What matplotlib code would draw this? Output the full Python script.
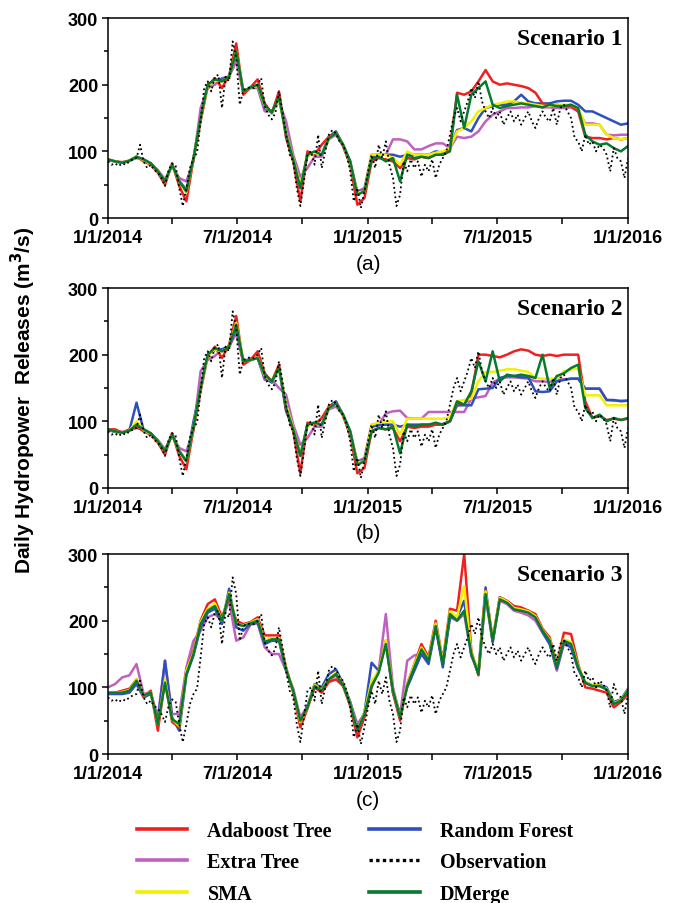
import matplotlib
matplotlib.use("Agg")
import matplotlib.pyplot as plt
import matplotlib.dates as mdates
from matplotlib.ticker import FuncFormatter, MultipleLocator
import numpy as np
import pandas as pd

start = pd.Timestamp("2014-01-01")
end = pd.Timestamp("2016-01-01")

# observed releases, one reading every 5 days (day 0 .. 730)
obs = [85, 80, 82, 78, 82, 80, 85, 88, 90, 110,
       85, 75, 80, 72, 68, 60, 48, 72, 82, 78,
       45, 18, 45, 75, 90, 98, 145, 195, 205, 190,
       212, 215, 165, 212, 205, 265, 240, 170, 192, 195,
       196, 195, 200, 210, 168, 155, 148, 158, 190, 160,
       125, 95, 85, 45, 18, 55, 95, 100, 80, 125,
       75, 100, 125, 132, 127, 115, 110, 95, 70, 25,
       45, 15, 40, 70, 95, 75, 110, 90, 115, 80,
       60, 18, 35, 85, 70, 88, 75, 85, 62, 80,
       70, 88, 60, 80, 90, 100, 125, 150, 165, 145,
       160, 175, 195, 180, 205, 175, 160, 150, 165, 150,
       160, 140, 150, 160, 145, 155, 140, 150, 160, 145,
       135, 150, 160, 150, 145, 165, 140, 165, 170, 160,
       150, 120, 115, 100, 125, 110, 115, 100, 110, 105,
       95, 70, 105, 90, 85, 60, 90]

# model outputs, one reading every 10 days (day 0 .. 730)
# scenario 1
s1_ada = [88, 85, 83, 86, 92, 85, 80, 68, 50, 82, 48, 25, 88, 145, 198, 210, 195, 214, 262, 185,
          196, 208, 172, 157, 190, 120, 85, 25, 100, 95, 110, 122, 128, 108, 80, 20, 30,
          85, 90, 88, 85, 75, 90, 88, 92, 90, 95, 95, 105,
          188, 185, 190, 205, 222, 205, 200, 202, 200, 198, 195,
          188, 172, 168, 170, 168, 168, 160, 122, 120, 120, 118, 120, 118, 120]
s1_rf = [87, 85, 83, 86, 92, 87, 82, 70, 56, 80, 56, 42, 90, 150, 200, 207, 208, 212, 248, 190,
         196, 198, 165, 160, 180, 128, 90, 48, 95, 98, 95, 122, 130, 110, 85, 38, 42,
         92, 95, 95, 95, 92, 95, 95, 95, 95, 100, 98, 105,
         132, 135, 130, 150, 165, 168, 170, 170, 175, 185, 175,
         172, 172, 172, 175, 176, 176, 170, 160, 160, 155, 150, 145, 140, 142]
s1_et = [87, 85, 84, 86, 90, 88, 82, 72, 58, 78, 60, 55, 85, 165, 195, 200, 210, 212, 235, 188,
         195, 195, 160, 160, 175, 145, 95, 62, 75, 92, 92, 118, 125, 108, 80, 40, 45,
         95, 95, 95, 118, 118, 115, 103, 103, 108, 112, 112, 105,
         122, 120, 122, 130, 145, 155, 160, 165, 165, 166, 166,
         168, 166, 166, 165, 165, 166, 160, 142, 142, 140, 125, 124, 125, 125]
s1_sma = [88, 85, 83, 86, 92, 87, 81, 70, 55, 80, 55, 38, 90, 150, 198, 206, 205, 212, 250, 190,
          196, 198, 168, 158, 178, 128, 90, 50, 92, 98, 95, 120, 127, 110, 83, 38, 40,
          95, 95, 95, 90, 80, 100, 95, 95, 95, 98, 100, 105,
          130, 135, 145, 160, 165, 170, 172, 175, 175, 173, 172,
          170, 168, 168, 170, 170, 170, 165, 140, 140, 140, 125, 120, 118, 120]
s1_dm = [88, 85, 83, 86, 92, 88, 82, 70, 55, 80, 55, 40, 90, 150, 200, 208, 205, 212, 250, 190,
         196, 200, 170, 158, 182, 125, 88, 45, 95, 100, 95, 120, 127, 110, 85, 35, 40,
         88, 92, 85, 90, 55, 95, 90, 92, 90, 95, 95, 100,
         185, 135, 185, 195, 205, 170, 165, 168, 170, 172, 170,
         168, 166, 170, 168, 168, 170, 165, 125, 115, 110, 112, 105, 100, 108]

# scenario 2
s2_ada = [88, 88, 83, 88, 92, 85, 80, 68, 50, 82, 48, 28, 88, 145, 198, 212, 195, 215, 258, 185,
          192, 205, 172, 160, 185, 118, 85, 22, 98, 95, 105, 122, 128, 108, 80, 22, 30,
          85, 90, 88, 90, 70, 92, 90, 92, 92, 95, 95, 100,
          128, 125, 140, 200, 200, 198, 196, 200, 205, 208, 206,
          200, 198, 200, 198, 200, 200, 200, 130, 105, 108, 102, 104, 102, 104]
s2_rf = [87, 84, 83, 86, 128, 87, 82, 70, 56, 82, 56, 40, 100, 150, 200, 207, 208, 212, 240, 190,
         194, 196, 165, 158, 180, 115, 90, 50, 95, 98, 95, 122, 130, 110, 85, 38, 42,
         92, 94, 95, 95, 92, 95, 95, 95, 95, 95, 96, 100,
         124, 124, 124, 148, 149, 150, 165, 168, 168, 166, 166,
         145, 144, 145, 160, 162, 164, 164, 149, 149, 149, 132, 132, 130, 131]
s2_et = [87, 85, 84, 86, 90, 88, 82, 72, 58, 78, 60, 55, 86, 175, 192, 198, 208, 212, 232, 188,
         192, 195, 162, 162, 150, 140, 95, 65, 75, 92, 92, 118, 122, 110, 78, 40, 45,
         95, 95, 112, 115, 116, 105, 104, 104, 114, 114, 114, 114,
         114, 114, 134, 136, 138, 158, 164, 166, 166, 165, 164,
         160, 160, 159, 162, 163, 164, 164, 149, 149, 149, 132, 131, 131, 131]
s2_sma = [88, 85, 83, 86, 100, 87, 81, 70, 55, 80, 55, 40, 92, 150, 198, 208, 205, 212, 248, 190,
          192, 196, 168, 160, 178, 125, 90, 50, 92, 98, 95, 120, 127, 110, 83, 38, 40,
          95, 98, 100, 100, 80, 104, 104, 104, 104, 104, 104, 106,
          130, 132, 134, 160, 174, 174, 176, 178, 178, 176, 174,
          165, 164, 164, 164, 175, 178, 179, 139, 139, 139, 124, 124, 124, 124]
s2_dm = [88, 85, 83, 86, 95, 88, 82, 70, 55, 80, 55, 40, 92, 150, 200, 210, 205, 212, 245, 190,
         192, 195, 170, 160, 180, 120, 88, 48, 95, 98, 95, 120, 127, 110, 85, 35, 40,
         85, 90, 88, 92, 52, 95, 92, 95, 95, 98, 95, 100,
         130, 125, 145, 190, 160, 205, 160, 170, 168, 170, 168,
         165, 200, 150, 168, 172, 180, 185, 120, 105, 110, 100, 105, 102, 105]

# scenario 3
s3_ada = [92, 92, 95, 98, 112, 86, 95, 35, 110, 48, 40, 125, 155, 200, 225, 232, 205, 235, 200, 195,
          198, 205, 178, 178, 178, 130, 92, 40, 68, 100, 92, 108, 112, 102, 72, 25, 55,
          100, 125, 170, 92, 50, 105, 135, 165, 145, 200, 140, 218,
          215, 300, 155, 118, 245, 172, 235, 230, 222, 220, 215,
          210, 188, 175, 135, 182, 180, 135, 100, 98, 95, 92, 70, 78, 90]
s3_rf = [90, 90, 90, 92, 105, 85, 90, 50, 140, 55, 35, 118, 148, 190, 212, 218, 195, 248, 190, 185,
         195, 198, 165, 170, 170, 125, 95, 45, 72, 105, 100, 120, 127, 106, 78, 38, 62,
         137, 125, 168, 92, 60, 100, 125, 150, 135, 190, 130, 205,
         205, 230, 148, 125, 250, 168, 235, 228, 218, 215, 215,
         205, 183, 165, 128, 168, 160, 128, 108, 103, 104, 100, 78, 82, 98]
s3_et = [100, 105, 115, 118, 135, 90, 92, 55, 140, 60, 60, 130, 170, 185, 205, 210, 200, 230, 170, 175,
         194, 196, 160, 150, 150, 125, 98, 55, 72, 100, 95, 110, 118, 103, 78, 45, 60,
         105, 125, 210, 100, 58, 140, 148, 150, 145, 190, 135, 205,
         200, 210, 148, 120, 235, 168, 230, 225, 215, 212, 208,
         200, 182, 165, 125, 165, 160, 128, 106, 102, 102, 97, 76, 80, 95]
s3_sma = [92, 92, 93, 96, 112, 88, 92, 45, 112, 52, 42, 125, 152, 198, 218, 226, 200, 242, 195, 193,
          197, 202, 170, 174, 174, 128, 95, 48, 70, 104, 96, 114, 122, 104, 76, 36, 62,
          110, 124, 170, 96, 56, 104, 134, 160, 142, 196, 138, 214,
          205, 252, 152, 122, 244, 172, 234, 229, 219, 217, 214,
          207, 186, 172, 132, 172, 168, 132, 108, 103, 103, 98, 76, 81, 96]
s3_dm = [92, 92, 92, 95, 110, 88, 92, 45, 107, 52, 45, 120, 150, 195, 215, 222, 200, 240, 195, 192,
         196, 200, 168, 172, 172, 127, 95, 50, 70, 102, 95, 112, 120, 103, 75, 35, 60,
         102, 122, 165, 95, 55, 102, 130, 157, 140, 192, 135, 210,
         200, 215, 150, 120, 240, 170, 232, 227, 217, 215, 212,
         205, 185, 170, 130, 170, 165, 130, 107, 102, 102, 97, 75, 80, 95]

scenarios = [
    ("Scenario 1", "(a)", s1_ada, s1_rf, s1_et, s1_sma, s1_dm),
    ("Scenario 2", "(b)", s2_ada, s2_rf, s2_et, s2_sma, s2_dm),
    ("Scenario 3", "(c)", s3_ada, s3_rf, s3_et, s3_sma, s3_dm),
]

obs_dates = start + pd.to_timedelta(np.arange(len(obs)) * 5, unit="D")
mod_dates = start + pd.to_timedelta(np.arange(74) * 10, unit="D")

c_ada = "#f02020"
c_rf = "#2f4fbf"
c_et = "#c060c0"
c_sma = "#f2f000"
c_dm = "#067a2e"

tick_font = dict(family="Liberation Sans", weight="bold", size=13)

fig = plt.figure(figsize=(6.78, 9.04), dpi=100)
boxes = [(0.1593, 0.7577), (0.1593, 0.4591), (0.1593, 0.1648)]


def date_label(x, pos):
    d = mdates.num2date(x)
    if d.month in (1, 7):
        return f"{d.month}/{d.day}/{d.year}"
    return ""


handles = {}
for (left, bottom), (title, tag, ada, rf, et, sma, dm) in zip(boxes, scenarios):
    ax = fig.add_axes([left, bottom, 0.767, 0.2212])
    handles["et"], = ax.plot(mod_dates, et, color=c_et, lw=1.8)
    handles["rf"], = ax.plot(mod_dates, rf, color=c_rf, lw=1.8)
    handles["ada"], = ax.plot(mod_dates, ada, color=c_ada, lw=1.8)
    handles["sma"], = ax.plot(mod_dates, sma, color=c_sma, lw=1.8)
    handles["dm"], = ax.plot(mod_dates, dm, color=c_dm, lw=1.8)
    handles["obs"], = ax.plot(obs_dates, obs, color="black", lw=1.3, ls=(0, (1, 1.6)))

    ax.set_xlim(start, end)
    ax.set_ylim(0, 300)
    ax.xaxis.set_major_locator(mdates.MonthLocator(bymonth=(1, 4, 7, 10)))
    ax.xaxis.set_major_formatter(FuncFormatter(date_label))
    ax.yaxis.set_major_locator(MultipleLocator(100))
    ax.yaxis.set_minor_locator(MultipleLocator(50))
    ax.tick_params(axis="both", which="both", direction="out", width=1.1)
    ax.tick_params(axis="both", which="major", length=4)
    ax.tick_params(axis="y", which="minor", length=3)
    ax.tick_params(axis="x", pad=4)
    ax.tick_params(axis="y", pad=3)
    for lab in ax.get_xticklabels() + ax.get_yticklabels():
        lab.set_fontproperties(matplotlib.font_manager.FontProperties(**tick_font))
    for sp in ax.spines.values():
        sp.set_linewidth(1.1)

    ax.text(0.99, 0.95, title, transform=ax.transAxes, ha="right", va="top",
            family="Liberation Serif", weight="bold", size=17)
    ax.text(0.5, -0.225, tag, transform=ax.transAxes, ha="center", va="center",
            family="Liberation Sans", size=15)

fig.text(0.035, 1 - 400 / 904, "Daily Hydropower  Releases (m$^\\mathbf{3}$/s)", rotation=90,
         ha="center", va="center", family="Liberation Sans", weight="bold", size=15)

order = ["ada", "et", "sma", "rf", "obs", "dm"]
names = {"ada": "Adaboost Tree", "rf": "Random Forest", "et": "Extra Tree",
         "obs": "Observation", "sma": "SMA", "dm": "DMerge"}
leg_lines = []
for k in order:
    h = handles[k]
    if k == "obs":
        leg_lines.append(plt.Line2D([], [], color="black", lw=2.4, ls=(0, (1, 1))))
    else:
        leg_lines.append(plt.Line2D([], [], color=h.get_color(), lw=2.6))
fig.legend(leg_lines, [names[k] for k in order], ncol=2, frameon=False,
           loc="upper left", bbox_to_anchor=(0.202, 1 - 822 / 904),
           prop=dict(family="Liberation Serif", weight="bold", size=14.5),
           handlelength=2.5, handletextpad=1.0, columnspacing=1.85,
           labelspacing=0.57, borderpad=0, borderaxespad=0)

fig.savefig("out.png", dpi=100, facecolor="white")
